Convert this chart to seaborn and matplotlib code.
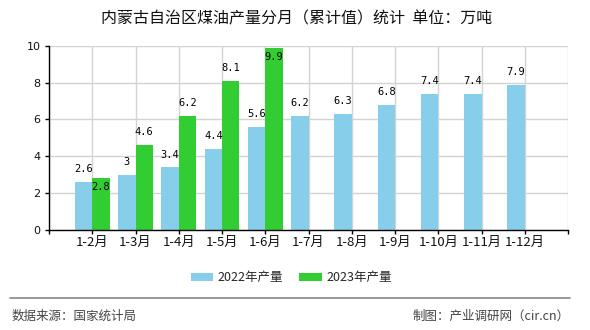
import numpy as np
import pandas as pd
import matplotlib
matplotlib.use("Agg")
import matplotlib.pyplot as plt
import matplotlib.patches as mpatches
from matplotlib.lines import Line2D
import seaborn as sns

categories = ["1-2月", "1-3月", "1-4月", "1-5月", "1-6月", "1-7月",
              "1-8月", "1-9月", "1-10月", "1-11月", "1-12月"]
values_2022 = [2.6, 3, 3.4, 4.4, 5.6, 6.2, 6.3, 6.8, 7.4, 7.4, 7.9]
values_2023 = [2.8, 4.6, 6.2, 8.1, 9.9]
series_names = ["2022年产量", "2023年产量"]
colors = ["#87CEEB", "#32CD32"]
title = "内蒙古自治区煤油产量分月（累计值）统计  单位：万吨"
source_text = "数据来源：国家统计局"
credit_text = "制图：产业调研网（cir.cn）"

sns.set_theme(style="white")
CJK = ["Noto Sans CJK SC", "DejaVu Sans"]
plt.rcParams["font.family"] = CJK

rows = []
for c, v in zip(categories, values_2022):
    rows.append({"cat": c, "val": v, "series": series_names[0]})
for c, v in zip(categories, values_2023):
    rows.append({"cat": c, "val": v, "series": series_names[1]})
df = pd.DataFrame(rows)

fig = plt.figure(figsize=(5.9, 3.3), dpi=100)
ax = fig.add_axes([49 / 590, 1 - 229.7 / 330, 519 / 590, (229.7 - 46) / 330])

sns.barplot(data=df, x="cat", y="val", hue="series", order=categories,
            hue_order=series_names, palette=colors, width=0.8,
            saturation=1, ax=ax, legend=False, errorbar=None, zorder=3,
            linewidth=0, edgecolor="none")

n = len(categories)
ax.set_xlim(-1, n)
ax.set_ylim(0, 10)
ax.set_xticks(range(-1, n + 1))
ax.set_xticklabels([""] + categories + [""], fontsize=9.5, family=CJK, color="#111111")
ax.set_yticks([0, 2, 4, 6, 8, 10])
ax.set_yticklabels(["0", "2", "4", "6", "8", "10"], fontsize=8, family="DejaVu Sans", color="#111111")
ax.set_xlabel("")
ax.set_ylabel("")
ax.grid(True, color="#d3d3d3", linewidth=1, zorder=0)
ax.set_axisbelow(True)
for s in ["top", "right"]:
    ax.spines[s].set_visible(False)
for s in ["left", "bottom"]:
    ax.spines[s].set_color("black")
    ax.spines[s].set_linewidth(1)
    ax.spines[s].set_zorder(5)
ax.tick_params(axis="x", direction="out", length=3, width=1, color="black", pad=1.5, bottom=True)
ax.tick_params(axis="y", direction="out", length=3, width=1, color="black", pad=3, left=True)

# data labels
lab_font = dict(family="DejaVu Sans Mono", fontsize=7.5, color="black")
c22, c23 = ax.containers[0], ax.containers[1]
for p, v in zip(c22.patches, values_2022):
    ax.annotate(f"{v:g}", (p.get_x() + p.get_width() / 2, p.get_height()),
                xytext=(0, 9), textcoords="offset points", ha="center", va="center",
                zorder=6, **lab_font)
for i, (p, v) in enumerate(zip(c23.patches, values_2023)):
    inside = v > 9 or abs(v - values_2022[i]) < 0.6
    off = -6.5 if inside else 9.5
    ax.annotate(f"{v:g}", (p.get_x() + p.get_width() / 2, p.get_height()),
                xytext=(0, off), textcoords="offset points", ha="center", va="center",
                zorder=6, **lab_font)

# title
fig.text(297 / 590, 1 - 19 / 330, title, ha="center", va="center", fontsize=11.5,
         family=CJK, color="#111111")

# legend
handles = [mpatches.Patch(facecolor=c, edgecolor="none", label=l) for c, l in zip(colors, series_names)]
fig.legend(handles=handles, loc="center", bbox_to_anchor=(291 / 590, 1 - 278 / 330),
           ncol=2, frameon=False, prop={"family": CJK, "size": 9},
           handlelength=1.8, handleheight=0.65, handletextpad=0.35,
           columnspacing=1.3, borderaxespad=0, borderpad=0)

# footer
fig.add_artist(Line2D([10 / 590, 570 / 590], [1 - 298 / 330, 1 - 298 / 330],
                      color="#888888", linewidth=1.2, transform=fig.transFigure))
fig.text(12 / 590, 1 - 316 / 330, source_text, ha="left", va="center", fontsize=9,
         family=CJK, color="#444444")
fig.text(570 / 590, 1 - 316 / 330, credit_text, ha="right", va="center", fontsize=9,
         family=CJK, color="#444444")

fig.savefig("out.png", dpi=100, facecolor="white")
